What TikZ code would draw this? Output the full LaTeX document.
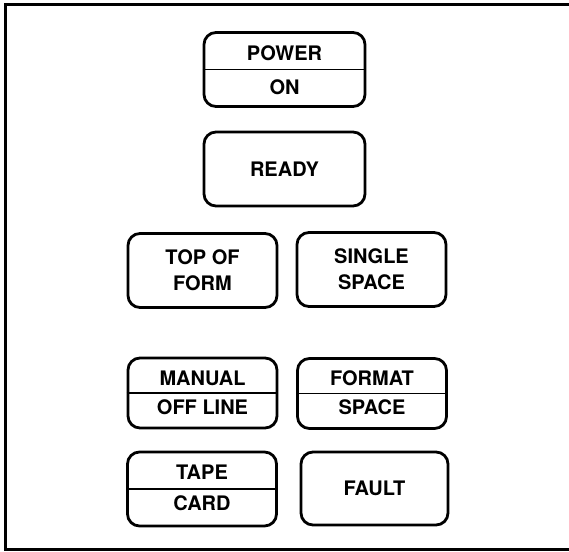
\documentclass[tikz,border=0pt]{standalone}
\usepackage{fontspec}
\newfontfamily\panelfont{TeX Gyre Heros}
\usetikzlibrary{positioning,calc}
\tikzset{auto ,on grid ,
lamp/.style ={ draw, rounded corners=12pt, line width=2.8pt,
  minimum width =149pt, minimum height=74pt, align=center,
  font=\panelfont\bfseries\fontsize{20}{26}\selectfont},
wide lamp/.style ={ lamp, minimum width =161pt},
caption/.style ={ font=\panelfont\bfseries\fontsize{20}{26}\selectfont,
  text height=14.3pt, text depth=0pt, inner sep=0pt},
divider/.style ={ line width=1.8pt},
frame/.style ={ line width=3pt}}

\begin{document}
\begin{tikzpicture}[x=1pt,y=-1pt]
\useasboundingbox (0,0) rectangle (569,551);
\draw[frame] (569,5) -- (5,5) -- (5,549) -- (569,549);
\node[wide lamp] (P) at (284.5,69.5) {};
\node[wide lamp] (R) [below=99.5pt of P] {READY};
\node[lamp] (T) at (202.5,270.5) {TOP OF\\FORM};
\node[lamp] (S) at (371.5,269.5) {SINGLE\\SPACE};
\node[lamp, minimum height=70pt] (M) at (202.5,393) {};
\node[lamp, minimum height=70pt] (F) at (372,393.5) {};
\node[lamp] (C) at (202,489) {};
\node[lamp, minimum width=147pt, minimum height=73pt] (X) at (374.5,488.5) {FAULT};
% split lamps
\node[caption] (P1) at ($(P)+(0,-16)$) {POWER};
\node[caption] (P2) at ($(P)+(0,18)$) {ON};
\node[caption] (M1) at ($(M)+(0,-15)$) {MANUAL};
\node[caption] (M2) at ($(M)+(0,14)$) {OFF LINE};
\node[caption] (F1) at ($(F)+(0,-15)$) {FORMAT};
\node[caption] (F2) at ($(F)+(0,14)$) {SPACE};
\node[caption] (C1) at ($(C)+(0,-17)$) {TAPE};
\node[caption] (C2) at ($(C)+(0,14)$) {CARD};
\path[divider]
    (P.west) edge (P.east)
    (M.west) edge (M.east)
    (F.west) edge (F.east)
    (C.west) edge (C.east);
\end{tikzpicture}
\end{document}
